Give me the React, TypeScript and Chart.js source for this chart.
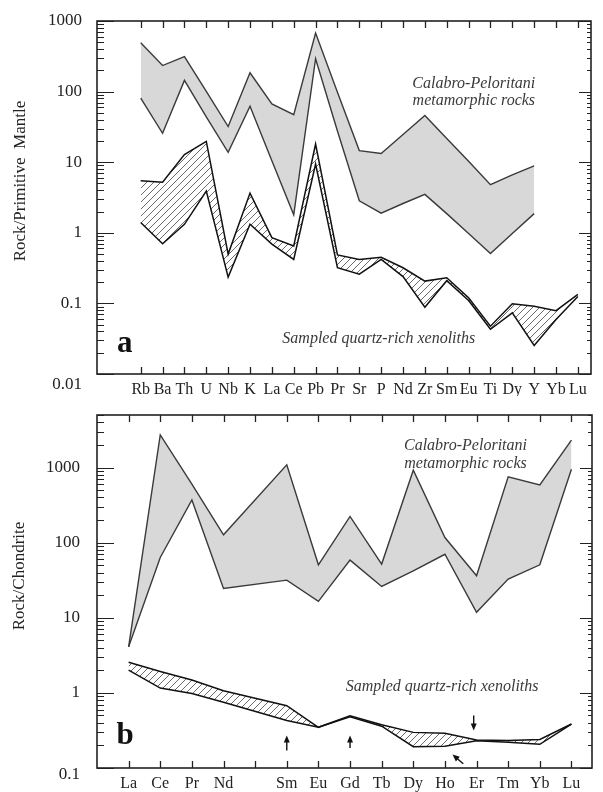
import { useEffect, useRef } from "react";
import { Chart, registerables } from "chart.js";

Chart.register(...registerables);

// ---------------- Panel a: Rock / Primitive Mantle ----------------
const elementsA = ["Rb", "Ba", "Th", "U", "Nb", "K", "La", "Ce", "Pb", "Pr", "Sr", "P", "Nd", "Zr", "Sm", "Eu", "Ti", "Dy", "Y", "Yb", "Lu"];
const calabroMaxA = [492, 234, 314, 101, 32, 185, 67, 47, 675, 98, 14.6, 13.3, 24.7, 46, 21.7, 10.3, 4.8, 6.6, 8.9, null, null];
const calabroMinA = [81, 25.7, 144, 44, 13.8, 62, 10.5, 1.8, 292, 27.7, 2.84, 1.9, 2.6, 3.5, 1.87, 0.98, 0.51, 0.98, 1.87, null, null];
const xenoMaxA = [5.46, 5.2, 12.8, 19.7, 0.5, 3.65, 0.855, 0.65, 18.1, 0.485, 0.42, 0.45, 0.32, 0.207, 0.231, 0.12, 0.0475, 0.0987, 0.091, 0.079, 0.134];
const xenoMinA = [1.4, 0.7, 1.32, 3.9, 0.236, 1.32, 0.69, 0.42, 9.4, 0.32, 0.26, 0.42, 0.24, 0.0885, 0.21, 0.11, 0.043, 0.0736, 0.0253, 0.059, 0.125];
const yTicksA = [0.01, 0.1, 1, 10, 100, 1000];
const yTickLabelsA = ["0.01", "0.1", "1", "10", "100", "1000"];

// ---------------- Panel b: Rock / Chondrite ----------------
const elementsB = ["La", "Ce", "Pr", "Nd", "", "Sm", "Eu", "Gd", "Tb", "Dy", "Ho", "Er", "Tm", "Yb", "Lu"];
const calabroMaxB = [4.1, 2720, 600, 127, null, 1085, 50.7, 223, 51.8, 922, 117, 36.2, 751, 588, 2310];
const calabroMinB = [4.1, 63.5, 370, 24.5, null, 31.7, 16.5, 58.5, 26.1, 42, 70, 11.8, 32.7, 50.7, 950];
const xenoMaxB = [2.55, 1.93, 1.48, 1.07, null, 0.675, 0.348, 0.497, 0.377, 0.298, 0.29, 0.236, 0.232, 0.24, 0.385];
const xenoMinB = [2.01, 1.16, 0.98, 0.75, null, 0.43, 0.348, 0.48, 0.36, 0.192, 0.195, 0.23, 0.22, 0.207, 0.385];
const yTicksB = [0.1, 1, 10, 100, 1000];
const yTickLabelsB = ["0.1", "1", "10", "100", "1000"];

const SERIF = '"Liberation Serif", "Times New Roman", "DejaVu Serif", serif';

type Note = { text: string; x: number; y: number; font: string; color: string };
type Arrow = { x1: number; y1: number; x2: number; y2: number };

type PanelCfg = {
  labels: string[];
  xMin: number;
  xMax: number;
  yMin: number;
  yMax: number;
  upper: (number | null)[];
  lower: (number | null)[];
  xUpper: (number | null)[];
  xLower: (number | null)[];
  yTicks: number[];
  yTickLabels: string[];
  yLabelRight: number;
  bottomLabelShift: number;
  yTitle: string;
  yTitleX: number;
  yTitleY: number;
  padding: { left: number; right: number; top: number; bottom: number };
  notes: Note[];
  arrows: Arrow[];
};

const ITALIC = `italic 16px ${SERIF}`;
const LETTER = `bold 31px ${SERIF}`;

const panelA: PanelCfg = {
  labels: elementsA,
  xMin: -2,
  xMax: 20.6,
  yMin: 0.01,
  yMax: 1000,
  upper: calabroMaxA,
  lower: calabroMinA,
  xUpper: xenoMaxA,
  xLower: xenoMinA,
  yTicks: yTicksA,
  yTickLabels: yTickLabelsA,
  yLabelRight: 82,
  bottomLabelShift: 11,
  yTitle: "Rock/Primitive  Mantle",
  yTitleX: 21,
  yTitleY: 181,
  padding: { left: 97, right: 12, top: 21, bottom: 22 },
  notes: [
    { text: "Calabro-Peloritani", x: 15.24, y: 129, font: ITALIC, color: "#3a3a3a" },
    { text: "metamorphic rocks", x: 15.24, y: 73, font: ITALIC, color: "#3a3a3a" },
    { text: "Sampled quartz-rich xenoliths", x: 10.89, y: 0.0311, font: ITALIC, color: "#3a3a3a" },
    { text: "a", x: -0.73, y: 0.0205, font: LETTER, color: "#111" },
  ],
  arrows: [],
};

const panelB: PanelCfg = {
  labels: elementsB,
  xMin: -1,
  xMax: 14.65,
  yMin: 0.1,
  yMax: 5000,
  upper: calabroMaxB,
  lower: calabroMinB,
  xUpper: xenoMaxB,
  xLower: xenoMinB,
  yTicks: yTicksB,
  yTickLabels: yTickLabelsB,
  yLabelRight: 80,
  bottomLabelShift: 7,
  yTitle: "Rock/Chondrite",
  yTitleX: 20,
  yTitleY: 180,
  padding: { left: 97, right: 11, top: 19, bottom: 24 },
  notes: [
    { text: "Calabro-Peloritani", x: 10.65, y: 1945, font: ITALIC, color: "#3a3a3a" },
    { text: "metamorphic rocks", x: 10.65, y: 1110, font: ITALIC, color: "#3a3a3a" },
    { text: "Sampled quartz-rich xenoliths", x: 9.91, y: 1.21, font: ITALIC, color: "#3a3a3a" },
    { text: "b", x: -0.11, y: 0.21, font: LETTER, color: "#111" },
  ],
  arrows: [
    { x1: 5, y1: 0.171, x2: 5, y2: 0.27 },
    { x1: 7, y1: 0.185, x2: 7, y2: 0.27 },
    { x1: 10.91, y1: 0.5, x2: 10.91, y2: 0.316 },
    { x1: 10.58, y1: 0.114, x2: 10.24, y2: 0.151 },
  ],
};

function toPoints(vals: (number | null)[]) {
  return vals.map((v, i) => ({ x: i, y: v }));
}

function makeHatch(): CanvasPattern | string {
  const s = 7;
  const c = document.createElement("canvas");
  c.width = s;
  c.height = s;
  const g = c.getContext("2d");
  if (!g) return "#bbb";
  g.fillStyle = "#ffffff";
  g.fillRect(0, 0, s, s);
  g.strokeStyle = "#5a5a5a";
  g.lineWidth = 0.9;
  g.beginPath();
  g.moveTo(-1, s + 1);
  g.lineTo(s + 1, -1);
  g.moveTo(-1, 1);
  g.lineTo(1, -1);
  g.moveTo(s - 1, s + 1);
  g.lineTo(s + 1, s - 1);
  g.stroke();
  return g.createPattern(c, "repeat") || "#bbb";
}

function drawArrow(ctx: CanvasRenderingContext2D, x1: number, y1: number, x2: number, y2: number) {
  const ang = Math.atan2(y2 - y1, x2 - x1);
  const hl = 7;
  const hw = 3;
  ctx.beginPath();
  ctx.moveTo(x1, y1);
  ctx.lineTo(x2 - Math.cos(ang) * (hl - 1), y2 - Math.sin(ang) * (hl - 1));
  ctx.stroke();
  ctx.beginPath();
  ctx.moveTo(x2, y2);
  ctx.lineTo(x2 - hl * Math.cos(ang) + hw * Math.sin(ang), y2 - hl * Math.sin(ang) - hw * Math.cos(ang));
  ctx.lineTo(x2 - hl * Math.cos(ang) - hw * Math.sin(ang), y2 - hl * Math.sin(ang) + hw * Math.cos(ang));
  ctx.closePath();
  ctx.fill();
}

function makeAxesPlugin(cfg: PanelCfg) {
  return {
    id: "frameAxes",
    afterDraw(chart: any) {
      const ctx: CanvasRenderingContext2D = chart.ctx;
      const a = chart.chartArea;
      const xs = chart.scales.x;
      const ys = chart.scales.y;
      ctx.save();
      ctx.strokeStyle = "#222";
      ctx.fillStyle = "#222";

      // ticks top/bottom
      ctx.lineWidth = 1.3;
      ctx.beginPath();
      cfg.labels.forEach((_, i) => {
        const x = Math.round(xs.getPixelForValue(i)) + 0.5;
        ctx.moveTo(x, a.top);
        ctx.lineTo(x, a.top + 7);
        ctx.moveTo(x, a.bottom);
        ctx.lineTo(x, a.bottom - 7);
      });
      ctx.stroke();

      // log ticks left/right
      ctx.lineWidth = 1;
      ctx.beginPath();
      const e0 = Math.floor(Math.log10(cfg.yMin));
      const e1 = Math.ceil(Math.log10(cfg.yMax));
      for (let e = e0; e <= e1; e++) {
        for (let m = 1; m <= 9; m++) {
          const v = m * Math.pow(10, e);
          if (v < cfg.yMin * 0.999 || v > cfg.yMax * 1.001) continue;
          const y = Math.round(ys.getPixelForValue(v)) + 0.5;
          const ll = m === 1 ? 17 : 7;
          const rl = m === 1 ? 12 : 4;
          ctx.moveTo(a.left, y);
          ctx.lineTo(a.left + ll, y);
          ctx.moveTo(a.right, y);
          ctx.lineTo(a.right - rl, y);
        }
      }
      ctx.stroke();

      // frame
      ctx.lineWidth = 1.6;
      ctx.strokeRect(a.left, a.top, a.right - a.left, a.bottom - a.top);

      // y tick labels
      ctx.font = `17px ${SERIF}`;
      ctx.textAlign = "right";
      ctx.textBaseline = "middle";
      cfg.yTicks.forEach((v, i) => {
        let y = ys.getPixelForValue(v);
        if (i === 0) y += cfg.bottomLabelShift;
        ctx.fillText(cfg.yTickLabels[i], cfg.yLabelRight, y);
      });

      // x labels
      ctx.font = `16px ${SERIF}`;
      ctx.textAlign = "center";
      cfg.labels.forEach((lab, i) => {
        if (!lab) return;
        ctx.fillText(lab, xs.getPixelForValue(i), a.bottom + 16);
      });

      // y title
      ctx.save();
      ctx.font = `17px ${SERIF}`;
      ctx.translate(cfg.yTitleX, cfg.yTitleY);
      ctx.rotate(-Math.PI / 2);
      ctx.textAlign = "center";
      ctx.textBaseline = "middle";
      ctx.fillText(cfg.yTitle, 0, 0);
      ctx.restore();

      // notes
      cfg.notes.forEach((n) => {
        ctx.font = n.font;
        ctx.fillStyle = n.color;
        ctx.textAlign = "center";
        ctx.textBaseline = n.font === LETTER ? "alphabetic" : "middle";
        ctx.fillText(n.text, xs.getPixelForValue(n.x), ys.getPixelForValue(n.y));
      });

      // arrows
      ctx.strokeStyle = "#111";
      ctx.fillStyle = "#111";
      ctx.lineWidth = 1.4;
      cfg.arrows.forEach((ar) => {
        drawArrow(
          ctx,
          xs.getPixelForValue(ar.x1),
          ys.getPixelForValue(ar.y1),
          xs.getPixelForValue(ar.x2),
          ys.getPixelForValue(ar.y2)
        );
      });
      ctx.restore();
    },
  };
}

function Panel({ cfg, top }: { cfg: PanelCfg; top: number }) {
  const ref = useRef<HTMLCanvasElement | null>(null);
  useEffect(() => {
    if (!ref.current) return;
    const hatch = makeHatch();
    const chart = new Chart(ref.current, {
      type: "line",
      data: {
        datasets: [
          {
            data: toPoints(cfg.upper) as any,
            fill: "+1",
            backgroundColor: "#d8d8d8",
            borderColor: "#3a3a3a",
            borderWidth: 1.4,
            spanGaps: true,
            pointRadius: 0,
          },
          {
            data: toPoints(cfg.lower) as any,
            fill: false,
            borderColor: "#3a3a3a",
            borderWidth: 1.4,
            spanGaps: true,
            pointRadius: 0,
          },
          {
            data: toPoints(cfg.xUpper) as any,
            fill: "+1",
            backgroundColor: hatch as any,
            borderColor: "#111",
            borderWidth: 1.5,
            spanGaps: true,
            pointRadius: 0,
          },
          {
            data: toPoints(cfg.xLower) as any,
            fill: false,
            borderColor: "#111",
            borderWidth: 1.5,
            spanGaps: true,
            pointRadius: 0,
          },
        ],
      },
      options: {
        animation: false,
        responsive: false,
        events: [],
        layout: { padding: cfg.padding },
        plugins: {
          legend: { display: false },
          tooltip: { enabled: false },
          filler: { drawTime: "beforeDatasetsDraw", propagate: false },
        } as any,
        elements: { line: { tension: 0, borderJoinStyle: "miter" }, point: { radius: 0 } },
        scales: {
          x: { type: "linear", min: cfg.xMin, max: cfg.xMax, display: false },
          y: { type: "logarithmic", min: cfg.yMin, max: cfg.yMax, display: false },
        },
      },
      plugins: [makeAxesPlugin(cfg)],
    });
    return () => chart.destroy();
  }, [cfg]);
  return (
    <div style={{ position: "absolute", left: 0, top, width: 603, height: 396 }}>
      <canvas ref={ref} width={603} height={396} style={{ display: "block" }} />
    </div>
  );
}

export default function App() {
  return (
    <div style={{ position: "absolute", left: 0, top: 0, width: 603, height: 792, background: "#fff" }}>
      <Panel cfg={panelA} top={0} />
      <Panel cfg={panelB} top={396} />
    </div>
  );
}
